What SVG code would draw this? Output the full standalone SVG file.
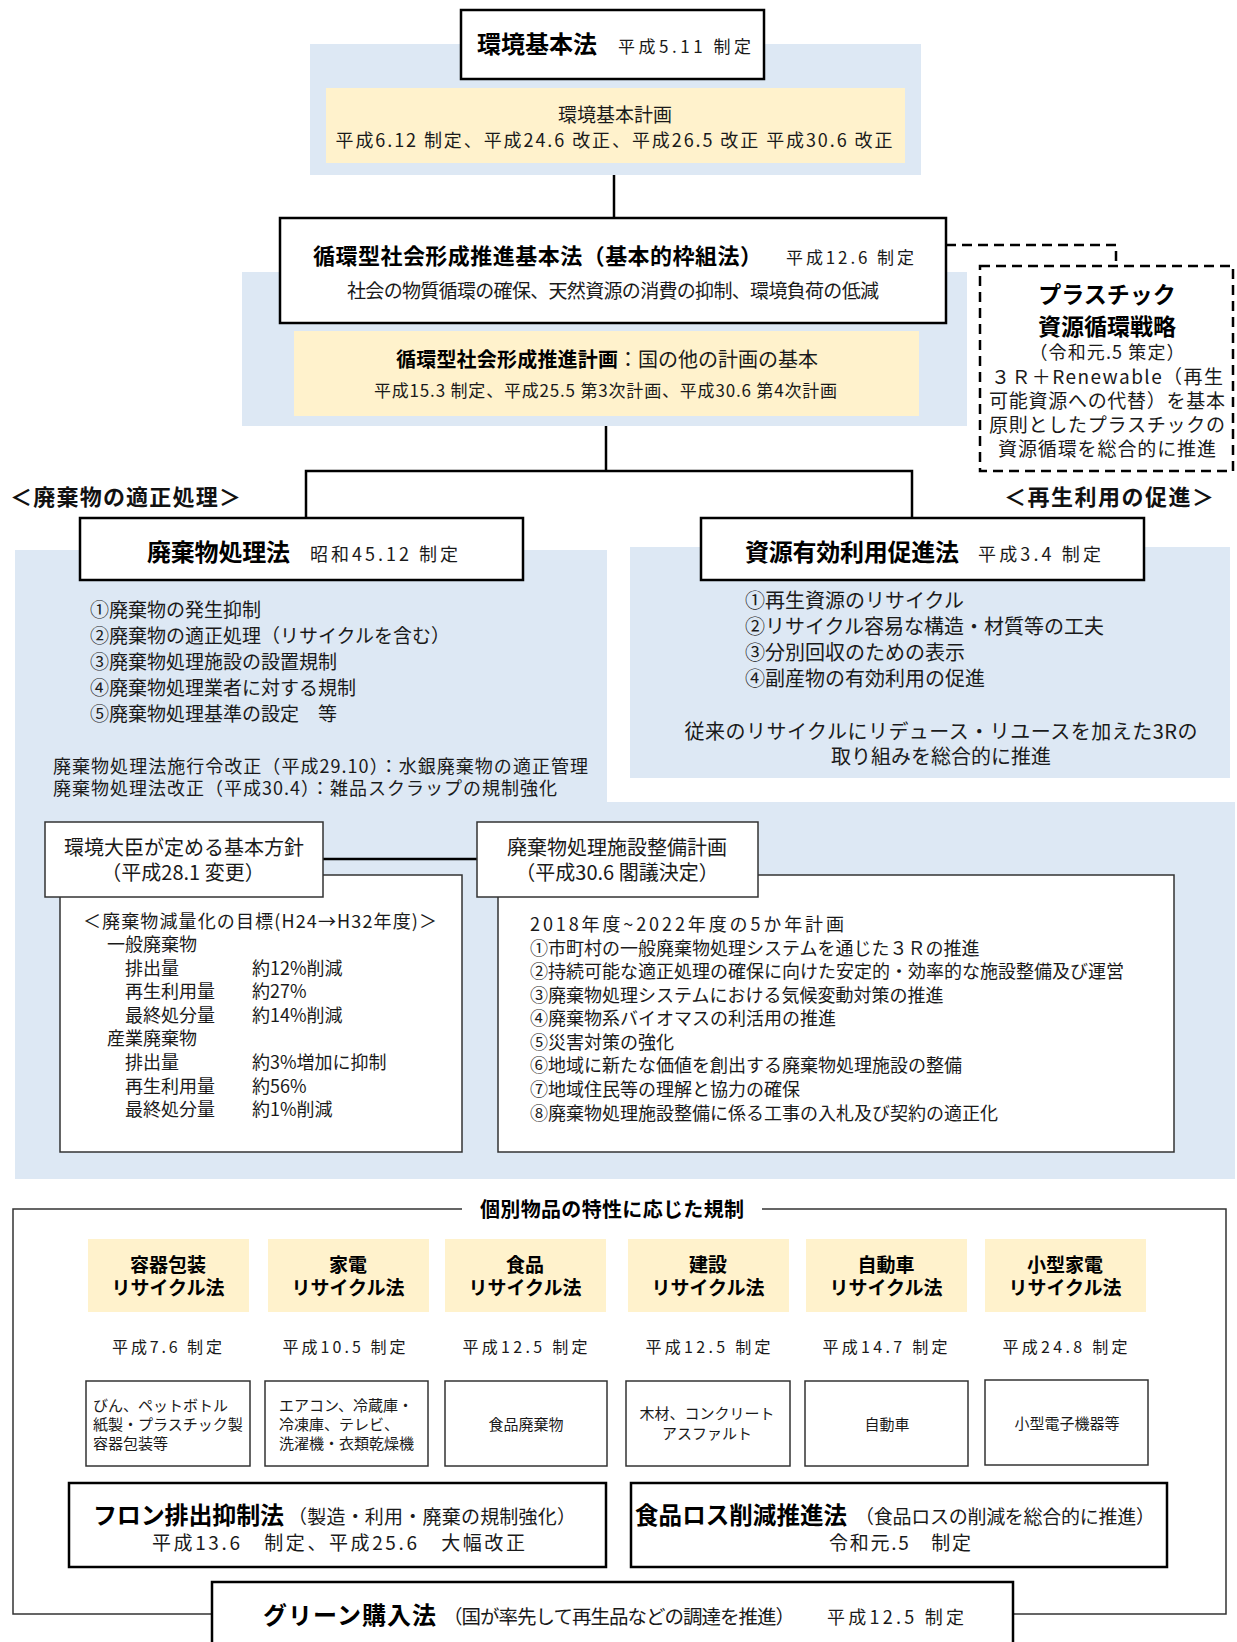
<svg xmlns="http://www.w3.org/2000/svg" width="1237" height="1642" viewBox="0 0 1237 1642">
<style>
.t{font-family:"Noto Sans CJK JP","Noto Sans CJK SC",sans-serif;fill:#1a1a1a}
.b{font-weight:700;fill:#000}
.md{font-weight:700;fill:#111}
.m{text-anchor:middle}
.bx{fill:#fff;stroke:#000;stroke-width:2.5}
.bt{fill:#fff;stroke:#333;stroke-width:1.5}
.blue{fill:#DDE8F4}
.yel{fill:#FFF2CC}
.ln{stroke:#000;stroke-width:2.5;fill:none}
.dash{stroke:#000;stroke-width:2.5;fill:none;stroke-dasharray:10 6}
.fr{stroke:#333;stroke-width:1.5;fill:none}
</style>
<rect width="1237" height="1642" fill="#fff"/>

<!-- background panels -->
<g id="panels">
<rect class="blue" x="310" y="44" width="611" height="131"/>
<rect class="blue" x="242" y="272" width="725" height="154"/>
<rect class="blue" x="15" y="550" width="592" height="629"/>
<rect class="blue" x="15" y="802" width="1220" height="377"/>
<rect class="blue" x="630" y="547" width="600" height="231"/>
</g>

<!-- connectors -->
<g id="connectors">
<line class="ln" x1="614" y1="175" x2="614" y2="219"/>
<polyline class="ln" points="606,426 606,471"/>
<polyline class="ln" points="306,518 306,471 912,471 912,518"/>
<path class="dash" d="M946,245 H1116 V266"/>
<line class="ln" x1="323" y1="859" x2="477" y2="859"/>
</g>

<g id="n-kankyo-kihonho">
<rect class="bx" x="461" y="10" width="303" height="69"/>
<text class="t b" x="477" y="53" font-size="24" textLength="120">環境基本法</text>
<text class="t" x="618" y="53" font-size="17" textLength="133">平成5.11 制定</text>
</g>

<g id="n-kankyo-kihon-keikaku">
<rect class="yel" x="326" y="88" width="579" height="75"/>
<text class="t m" x="615" y="122" font-size="19">環境基本計画</text>
<text class="t m" x="614" y="147" font-size="18" textLength="557">平成6.12 制定、平成24.6 改正、平成26.5 改正 平成30.6 改正</text>
</g>

<g id="n-junkan-kihonho">
<rect class="bx" x="280" y="218" width="666" height="105"/>
<text class="t b" x="313" y="264" font-size="22" textLength="449">循環型社会形成推進基本法（基本的枠組法）</text>
<text class="t" x="786" y="264" font-size="17" textLength="128">平成12.6 制定</text>
<text class="t" x="347" y="298" font-size="19" textLength="532">社会の物質循環の確保、天然資源の消費の抑制、環境負荷の低減</text>
</g>

<g id="n-junkan-keikaku">
<rect class="yel" x="294" y="331" width="625" height="85"/>
<text class="t b" x="396" y="367" font-size="20" textLength="222">循環型社会形成推進計画</text>
<text class="t" x="618" y="367" font-size="20" textLength="200">：国の他の計画の基本</text>
<text class="t" x="374" y="397" font-size="17" textLength="463">平成15.3 制定、平成25.5 第3次計画、平成30.6 第4次計画</text>
</g>

<g id="n-plastic">
<rect x="980" y="266" width="253" height="205" fill="#fff" class="dash"/>
<text class="t b m" x="1107" y="303" font-size="23">プラスチック</text>
<text class="t b m" x="1107" y="335" font-size="23">資源循環戦略</text>
<text class="t m" x="1107" y="359" font-size="18" textLength="155">（令和元.5 策定）</text>
<text class="t m" x="1107" y="384" font-size="19" textLength="232">３Ｒ＋Renewable（再生</text>
<text class="t m" x="1107" y="408" font-size="19" textLength="236">可能資源への代替）を基本</text>
<text class="t m" x="1107" y="432" font-size="19" textLength="236">原則としたプラスチックの</text>
<text class="t m" x="1107" y="456" font-size="19" textLength="218">資源循環を総合的に推進</text>
</g>

<g id="lbl-tekisei">
<text class="t md" x="10" y="505" font-size="22" textLength="231">＜廃棄物の適正処理＞</text>
</g>
<g id="lbl-saisei">
<text class="t md" x="1004" y="505" font-size="22" textLength="210">＜再生利用の促進＞</text>
</g>

<g id="n-haikibutsu-ho">
<rect class="bx" x="80" y="518" width="443" height="62"/>
<text class="t b" x="147" y="561" font-size="24" textLength="143">廃棄物処理法</text>
<text class="t" x="310" y="561" font-size="18" textLength="148">昭和45.12 制定</text>
<text class="t" x="90" y="617" font-size="19">①廃棄物の発生抑制</text>
<text class="t" x="90" y="643" font-size="19">②廃棄物の適正処理（リサイクルを含む）</text>
<text class="t" x="90" y="669" font-size="19">③廃棄物処理施設の設置規制</text>
<text class="t" x="90" y="695" font-size="19">④廃棄物処理業者に対する規制</text>
<text class="t" x="90" y="721" font-size="19">⑤廃棄物処理基準の設定　等</text>
<text class="t" x="53" y="773" font-size="18" textLength="535">廃棄物処理法施行令改正（平成29.10）：水銀廃棄物の適正管理</text>
<text class="t" x="53" y="795" font-size="18" textLength="504">廃棄物処理法改正（平成30.4）：雑品スクラップの規制強化</text>
</g>

<g id="n-shigen-ho">
<rect class="bx" x="701" y="518" width="443" height="62"/>
<text class="t b" x="745" y="561" font-size="24" textLength="214">資源有効利用促進法</text>
<text class="t" x="978" y="561" font-size="18" textLength="123">平成3.4 制定</text>
<text class="t" x="745" y="608" font-size="20">①再生資源のリサイクル</text>
<text class="t" x="745" y="634" font-size="20">②リサイクル容易な構造・材質等の工夫</text>
<text class="t" x="745" y="660" font-size="20">③分別回収のための表示</text>
<text class="t" x="745" y="686" font-size="20">④副産物の有効利用の促進</text>
<text class="t m" x="941" y="739" font-size="20" textLength="513">従来のリサイクルにリデュース・リユースを加えた3Rの</text>
<text class="t m" x="941" y="764" font-size="20">取り組みを総合的に推進</text>
</g>

<g id="n-mokuhyo">
<rect class="bt" x="60" y="875" width="402" height="277"/>
<text class="t" x="83" y="928" font-size="18" textLength="354">＜廃棄物減量化の目標(H24→H32年度)＞</text>
<text class="t" x="107" y="951" font-size="18">一般廃棄物</text>
<text class="t" x="125" y="975" font-size="18">排出量</text>
<text class="t" x="252" y="975" font-size="18">約12%削減</text>
<text class="t" x="125" y="998" font-size="18">再生利用量</text>
<text class="t" x="252" y="998" font-size="18">約27%</text>
<text class="t" x="125" y="1022" font-size="18">最終処分量</text>
<text class="t" x="252" y="1022" font-size="18">約14%削減</text>
<text class="t" x="107" y="1045" font-size="18">産業廃棄物</text>
<text class="t" x="125" y="1069" font-size="18">排出量</text>
<text class="t" x="252" y="1069" font-size="18">約3%増加に抑制</text>
<text class="t" x="125" y="1093" font-size="18">再生利用量</text>
<text class="t" x="252" y="1093" font-size="18">約56%</text>
<text class="t" x="125" y="1116" font-size="18">最終処分量</text>
<text class="t" x="252" y="1116" font-size="18">約1%削減</text>
</g>

<g id="n-kihon-hoshin">
<rect class="bt" x="45" y="822" width="278" height="75"/>
<text class="t m" x="184" y="855" font-size="20">環境大臣が定める基本方針</text>
<text class="t m" x="183" y="880" font-size="20">（平成28.1 変更）</text>
</g>

<g id="n-seibi-naiyo">
<rect class="bt" x="498" y="875" width="676" height="277"/>
<text class="t" x="530" y="931" font-size="18" textLength="314">2018年度~2022年度の5か年計画</text>
<text class="t" x="530" y="955" font-size="18">①市町村の一般廃棄物処理システムを通じた３Ｒの推進</text>
<text class="t" x="530" y="978" font-size="18">②持続可能な適正処理の確保に向けた安定的・効率的な施設整備及び運営</text>
<text class="t" x="530" y="1002" font-size="18">③廃棄物処理システムにおける気候変動対策の推進</text>
<text class="t" x="530" y="1025" font-size="18">④廃棄物系バイオマスの利活用の推進</text>
<text class="t" x="530" y="1049" font-size="18">⑤災害対策の強化</text>
<text class="t" x="530" y="1072" font-size="18">⑥地域に新たな価値を創出する廃棄物処理施設の整備</text>
<text class="t" x="530" y="1096" font-size="18">⑦地域住民等の理解と協力の確保</text>
<text class="t" x="530" y="1120" font-size="18">⑧廃棄物処理施設整備に係る工事の入札及び契約の適正化</text>
</g>

<g id="n-seibi-keikaku">
<rect class="bt" x="477" y="822" width="281" height="75"/>
<text class="t m" x="617" y="855" font-size="20">廃棄物処理施設整備計画</text>
<text class="t m" x="617" y="880" font-size="20">（平成30.6 閣議決定）</text>
</g>

<g id="n-kobetsu-frame">
<path class="fr" d="M462,1209 H13 V1614 H212 M1013,1614 H1226 V1209 H762"/>
<text class="t b m" x="612" y="1217" font-size="20" textLength="264">個別物品の特性に応じた規制</text>
</g>

<g id="n-yoki">
<rect class="yel" x="88" y="1239" width="161" height="73"/>
<text class="t b m" x="168" y="1272" font-size="19">容器包装</text>
<text class="t b m" x="168" y="1295" font-size="19">リサイクル法</text>
<text class="t m" x="167" y="1353" font-size="16" textLength="110">平成7.6 制定</text>
<rect class="bt" x="86" y="1381" width="164" height="85"/>
<text class="t" x="93" y="1411" font-size="15">びん、ペットボトル</text>
<text class="t" x="93" y="1430" font-size="15">紙製・プラスチック製</text>
<text class="t" x="93" y="1449" font-size="15">容器包装等</text>
</g>

<g id="n-kaden">
<rect class="yel" x="268" y="1239" width="161" height="73"/>
<text class="t b m" x="348" y="1272" font-size="19">家電</text>
<text class="t b m" x="348" y="1295" font-size="19">リサイクル法</text>
<text class="t m" x="344" y="1353" font-size="16" textLength="123">平成10.5 制定</text>
<rect class="bt" x="265" y="1381" width="163" height="85"/>
<text class="t" x="279" y="1411" font-size="15">エアコン、冷蔵庫・</text>
<text class="t" x="279" y="1430" font-size="15">冷凍庫、テレビ、</text>
<text class="t" x="279" y="1449" font-size="15">洗濯機・衣類乾燥機</text>
</g>

<g id="n-shokuhin">
<rect class="yel" x="445" y="1239" width="161" height="73"/>
<text class="t b m" x="525" y="1272" font-size="19">食品</text>
<text class="t b m" x="525" y="1295" font-size="19">リサイクル法</text>
<text class="t m" x="525" y="1353" font-size="16" textLength="125">平成12.5 制定</text>
<rect class="bt" x="445" y="1381" width="162" height="85"/>
<text class="t m" x="526" y="1430" font-size="15">食品廃棄物</text>
</g>

<g id="n-kensetsu">
<rect class="yel" x="628" y="1239" width="161" height="73"/>
<text class="t b m" x="708" y="1272" font-size="19">建設</text>
<text class="t b m" x="708" y="1295" font-size="19">リサイクル法</text>
<text class="t m" x="708" y="1353" font-size="16" textLength="125">平成12.5 制定</text>
<rect class="bt" x="626" y="1381" width="164" height="85"/>
<text class="t m" x="707" y="1419" font-size="15">木材、コンクリート</text>
<text class="t m" x="707" y="1439" font-size="15">アスファルト</text>
</g>

<g id="n-jidosha">
<rect class="yel" x="806" y="1239" width="161" height="73"/>
<text class="t b m" x="886" y="1272" font-size="19">自動車</text>
<text class="t b m" x="886" y="1295" font-size="19">リサイクル法</text>
<text class="t m" x="885" y="1353" font-size="16" textLength="125">平成14.7 制定</text>
<rect class="bt" x="805" y="1381" width="163" height="85"/>
<text class="t m" x="887" y="1430" font-size="15">自動車</text>
</g>

<g id="n-kogata">
<rect class="yel" x="985" y="1239" width="161" height="73"/>
<text class="t b m" x="1065" y="1272" font-size="19">小型家電</text>
<text class="t b m" x="1065" y="1295" font-size="19">リサイクル法</text>
<text class="t m" x="1065" y="1353" font-size="16" textLength="125">平成24.8 制定</text>
<rect class="bt" x="985" y="1380" width="163" height="85"/>
<text class="t m" x="1067" y="1429" font-size="15">小型電子機器等</text>
</g>

<g id="n-fron">
<rect class="bx" x="69" y="1483" width="537" height="84"/>
<text class="t b" x="93" y="1524" font-size="24" textLength="191">フロン排出抑制法</text>
<text class="t" x="288" y="1524" font-size="19" textLength="288">（製造・利用・廃棄の規制強化）</text>
<text class="t" x="152" y="1550" font-size="19" textLength="373">平成13.6　制定、平成25.6　大幅改正</text>
</g>

<g id="n-shokuhin-loss">
<rect class="bx" x="631" y="1483" width="536" height="84"/>
<text class="t b" x="635" y="1524" font-size="23.5" textLength="212">食品ロス削減推進法</text>
<text class="t" x="855" y="1524" font-size="19" textLength="300">（食品ロスの削減を総合的に推進）</text>
<text class="t m" x="900" y="1550" font-size="19" textLength="142">令和元.5　制定</text>
</g>

<g id="n-green">
<rect class="bx" x="212" y="1582" width="801" height="72"/>
<text class="t b" x="263" y="1624" font-size="24" textLength="173">グリーン購入法</text>
<text class="t" x="443" y="1624" font-size="19.5" textLength="352">（国が率先して再生品などの調達を推進）</text>
<text class="t" x="827" y="1624" font-size="18" textLength="137">平成12.5 制定</text>
</g>
</svg>
